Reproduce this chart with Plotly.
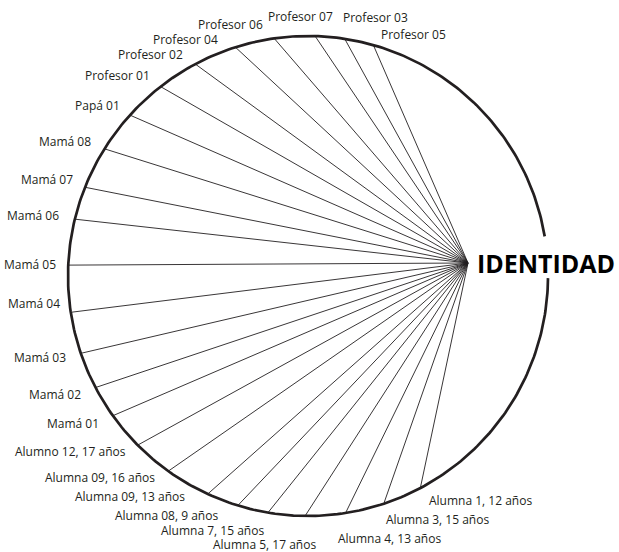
import numpy as np
import plotly.graph_objects as go

# ---- data: spoke labels and their angular position on the circle (degrees, counter-clockwise from east)
labels = [
    "Profesor 05", "Profesor 03", "Profesor 07", "Profesor 06", "Profesor 04",
    "Profesor 02", "Profesor 01", "Papá 01", "Mamá 08", "Mamá 07", "Mamá 06",
    "Mamá 05", "Mamá 04", "Mamá 03", "Mamá 02", "Mamá 01",
    "Alumno 12, 17 años", "Alumna 09, 16 años", "Alumna 09, 13 años",
    "Alumna 08, 9 años", "Alumna 7, 15 años", "Alumna 5, 17 años",
    "Alumna 4, 13 años", "Alumna 3, 15 años", "Alumna 1, 12 años",
]
angles_deg = [
    74.2, 81.2, 88.3, 98.1, 107.6,
    118.0, 127.9, 137.9, 148.0, 158.3, 166.3,
    177.4, 188.7, 198.8, 207.7, 215.6,
    224.8, 234.4, 245.3,
    253.0, 260.4, 269.3,
    279.0, 288.4, 297.9,
]
hub_label = "IDENTIDAD"

# ---- layout constants (pixel space)
W, H = 619, 552
CX, CY, R = 308, 276, 240
HUB_X, HUB_Y = 468, 263
GAP_FROM, GAP_TO = -0.5, 9.5   # opening in the circle next to the hub label
INK = "#231f20"
FONT = "Open Sans"

# manual label nudges (screen px, dx right, dy down)
nudge = {
    "Profesor 05": (2, 3), "Profesor 03": (-6, -7), "Profesor 07": (-15, -6),
    "Profesor 06": (-7, 0), "Profesor 04": (-11, 6), "Profesor 02": (-4, 3),
    "Papá 01": (2, 0), "Mamá 07": (3, -3), "Mamá 05": (4, 0), "Mamá 04": (5, -11),
    "Alumno 12, 17 años": (0, -3), "Alumna 09, 16 años": (-3, -5),
    "Alumna 09, 13 años": (-15, -10), "Alumna 08, 9 años": (-14, -3),
    "Alumna 7, 15 años": (0, 4), "Alumna 5, 17 años": (-40, 15),
    "Alumna 4, 13 años": (-12, 12), "Alumna 3, 15 años": (-4, 2),
}

fig = go.Figure()

# circle outline with gap
t = np.radians(np.linspace(GAP_TO, 360 + GAP_FROM, 400))
fig.add_trace(go.Scatter(
    x=CX + R * np.cos(t), y=CY - R * np.sin(t), mode="lines",
    line=dict(color=INK, width=2.7), hoverinfo="skip", showlegend=False))

# spokes
a = np.radians(np.array(angles_deg))
ex = CX + R * np.cos(a)
ey = CY - R * np.sin(a)
sx, sy = [], []
for x0, y0 in zip(ex, ey):
    sx += [x0, HUB_X, None]
    sy += [y0, HUB_Y, None]
fig.add_trace(go.Scatter(
    x=sx, y=sy, mode="lines", line=dict(color=INK, width=0.9),
    hoverinfo="skip", showlegend=False))

# labels
RL = R + 14
for lab, ang in zip(labels, angles_deg):
    ar = np.radians(ang)
    lx = CX + RL * np.cos(ar)
    ly = CY - RL * np.sin(ar)
    if 84 <= ang <= 93 or 265 <= ang <= 275:
        xa = "center"
    elif 93 < ang < 265:
        xa = "right"
    else:
        xa = "left"
    dx, dy = nudge.get(lab, (0, 0))
    fig.add_annotation(
        x=lx, y=ly, text=lab, showarrow=False, xanchor=xa, yanchor="middle",
        xshift=dx, yshift=-dy,
        font=dict(family=FONT, size=12, color=INK))

fig.add_annotation(
    x=HUB_X + 7, y=HUB_Y, text="<b>" + hub_label + "</b>", showarrow=False,
    xanchor="left", yanchor="middle",
    font=dict(family=FONT, size=25, color="#000000"))

fig.update_layout(
    width=W, height=H, margin=dict(l=0, r=0, t=0, b=0),
    paper_bgcolor="white", plot_bgcolor="white",
    xaxis=dict(range=[0, W], visible=False, fixedrange=True),
    yaxis=dict(range=[H, 0], visible=False, fixedrange=True),
)

fig.write_html("out.html", config={"displayModeBar": False},
               post_script="document.body.style.margin='0';")
